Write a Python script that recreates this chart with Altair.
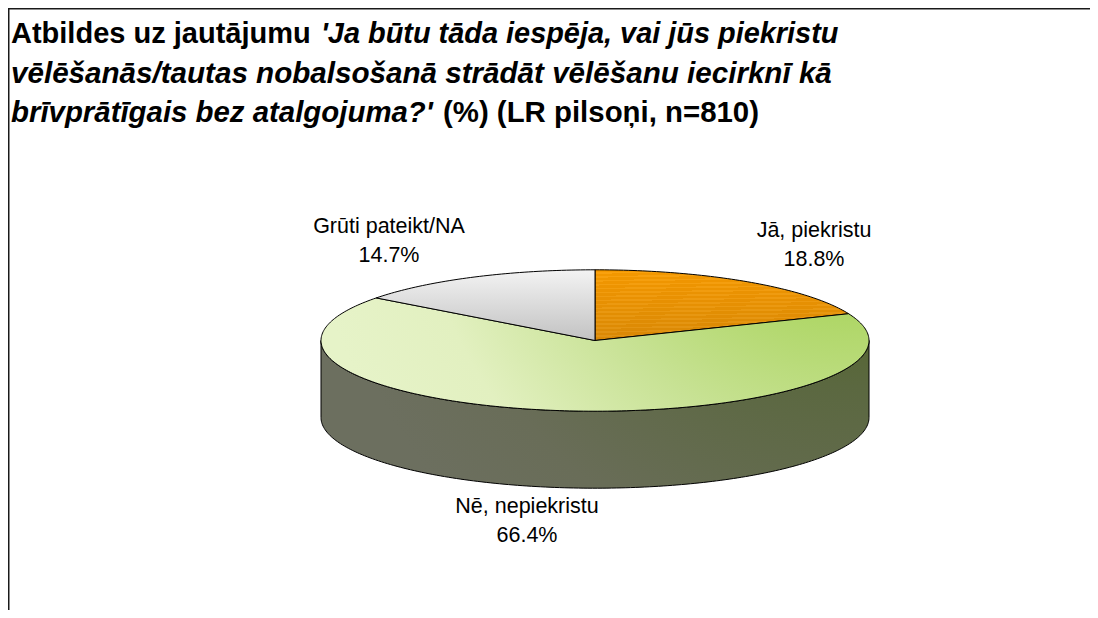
import math
import altair as alt

categories = ["Jā, piekristu", "Nē, nepiekristu", "Grūti pateikt/NA"]
shares = [18.8, 66.4, 14.7]
share_labels = ["18.8%", "66.4%", "14.7%"]

CX, CY, RX, RY, DEPTH = 587.0, 332.5, 274.0, 70.7, 77.0
W, H = 1082, 602
total = sum(shares)
proj = dict(type="identity", scale=1, translate=[0, 0])


def pt(deg, dy=0.0):
    a = math.radians(deg)
    return [CX + RX * math.sin(a), CY - RY * math.cos(a) + dy]


def arc(a0, a1, dy=0.0):
    n = max(2, int(abs(a1 - a0)) + 1)
    return [pt(a0 + (a1 - a0) * i / n, dy) for i in range(n + 1)]


def feature(ring):
    ring = ring + [ring[0]]
    return alt.Data(values=[{"type": "Feature", "properties": {},
                             "geometry": {"type": "Polygon", "coordinates": [ring]}}])


def shape(ring, fill):
    return alt.Chart(feature(ring)).mark_geoshape(
        fill=fill, stroke="#000000", strokeWidth=1).project(**proj)


def stops(pairs):
    return [alt.GradientStop(offset=o, color=c) for o, c in pairs]


# orange has a fine row texture over a top-to-bottom shade
orange_pairs = []
rows = 18
for i in range(rows):
    t = i / rows
    r, g, b = 244 - 28 * t, 152 - 16 * t, 0 + 6 * t
    base = "#%02x%02x%02x" % (int(r), int(g), int(b))
    light = "#%02x%02x%02x" % (int(min(255, r + 5)), int(g + 9), int(b + 14))
    orange_pairs += [(t, base), (t + 0.6 / rows, base), (t + 0.6 / rows, light), (t + 1.0 / rows, light)]

fills = [
    alt.LinearGradient(gradient="linear", x1=0, y1=0, x2=0.05, y2=1, stops=stops(orange_pairs)),
    alt.RadialGradient(gradient="radial", x1=0.97, y1=0.12, r1=0, x2=0.97, y2=0.12, r2=1.0,
                       stops=stops([(0, "#99cc33"), (0.12, "#9ccf3c"), (0.3, "#aed665"),
                                    (0.55, "#c8e295"), (0.8, "#e2f0c0"), (1, "#e6f3c8")])),
    alt.LinearGradient(gradient="linear", x1=0, y1=0, x2=0, y2=1,
                       stops=stops([(0, "#f3f3f3"), (1, "#c2c2c2")])),
]
wall_fill = alt.RadialGradient(gradient="radial", x1=0.99, y1=0.0, r1=0, x2=0.99, y2=0.0, r2=1.0,
                               stops=stops([(0, "#4a6212"), (0.2, "#4f641f"), (0.45, "#5b6840"),
                                            (0.8, "#696d58"), (1, "#6c6f5f")]))

layers = []
wall_ring = arc(90, 270) + arc(270, 90, DEPTH)
layers.append(shape(wall_ring, wall_fill))

angle = 0.0
for s, f in zip(shares, fills):
    a1 = angle + 360.0 * s / total
    layers.append(shape([[CX, CY]] + arc(angle, a1), f))
    angle = a1

# frame
frame = [
    alt.Chart(alt.Data(values=[{}])).mark_rule(color="#1a1a1a", strokeWidth=1.5).encode(
        x=alt.value(0.75), y=alt.value(0), y2=alt.value(H)),
    alt.Chart(alt.Data(values=[{}])).mark_rule(color="#1a1a1a", strokeWidth=1.5).encode(
        y=alt.value(0.75), x=alt.value(0), x2=alt.value(W)),
]


def text(s, x, y, size=29.5, weight="normal", style="normal", align="left", color="#000000"):
    return alt.Chart(alt.Data(values=[{"t": s}])).mark_text(
        font="Liberation Sans", fontSize=size, fontWeight=weight, fontStyle=style,
        align=align, baseline="alphabetic", color=color
    ).encode(text="t:N", x=alt.value(x), y=alt.value(y))


titles = [
    text("Atbildes uz jautājumu", 3, 35, size=29, weight="bold"),
    text("'Ja būtu tāda iespēja, vai jūs piekristu", 313, 35, size=28.9, weight="bold", style="italic"),
    text("vēlēšanās/tautas nobalsošanā strādāt vēlēšanu iecirknī kā", 3, 75, size=29.6, weight="bold", style="italic"),
    text("brīvprātīgais bez atalgojuma?'", 3, 114, size=29.4, weight="bold", style="italic"),
    text("(%) (LR pilsoņi, n=810)", 435, 114, size=29.4, weight="bold"),
]

label_pos = [(806, 229), (519, 505), (381, 225)]
labels = []
for c, p, (x, y) in zip(categories, share_labels, label_pos):
    labels.append(text(c, x, y, size=21.5, align="center"))
    labels.append(text(p, x, y + 29, size=21.5, align="center"))

chart = alt.layer(*layers, *frame, *titles, *labels).properties(
    width=W, height=H, padding=0, autosize=alt.AutoSizeParams(type="none")
).configure_view(stroke=None)

chart.save("out.html", embed_options={"renderer": "svg", "actions": False})
